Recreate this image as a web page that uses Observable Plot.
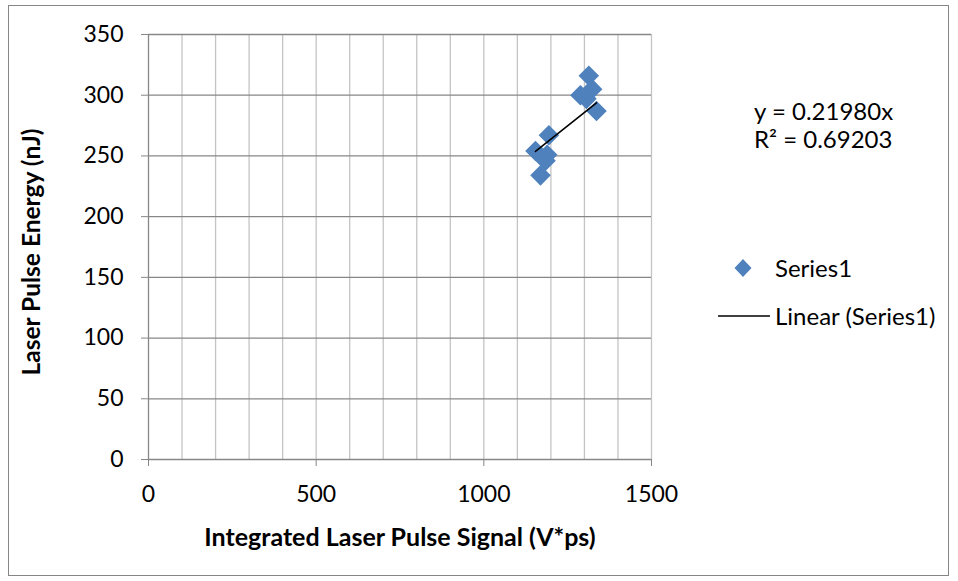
<!DOCTYPE html>
<html>
<head>
<meta charset="utf-8">
<script src="https://cdn.jsdelivr.net/npm/d3@7"></script>
<script src="https://cdn.jsdelivr.net/npm/@observablehq/plot@0.6"></script>
<style>
  html, body { margin: 0; padding: 0; background: #fff; }
  #wrap { position: relative; width: 958px; height: 581px; font-family: Lato, "Open Sans", sans-serif; color: #000; }
  #wrap svg { position: absolute; left: 0; top: 0; }
  .border { position: absolute; left: 8px; top: 5px; width: 941px; height: 571px; border: 1px solid #868686; box-sizing: border-box; pointer-events: none; }
  .t { position: absolute; white-space: nowrap; font-size: 24px; line-height: 1; }
</style>
</head>
<body>
<div id="wrap"></div>
<script>
// Data
const signal = [1313, 1323, 1288, 1306, 1336, 1194, 1154, 1189, 1184, 1169];
const energy = [316, 305, 300, 297, 287, 267, 254, 251, 246, 234];
const slope = 0.2198;
const r2 = 0.69203;
const xTicks = [0, 500, 1000, 1500];
const yTicks = [0, 50, 100, 150, 200, 250, 300, 350];
const xGrid = d3.range(100, 1501, 100);
const seriesName = "Series1";
const xTitle = "Integrated Laser Pulse Signal (V*ps)";
const yTitle = "Laser Pulse Energy (nJ)";

const points = signal.map((s, i) => ({x: s, y: energy[i]}));
const xmin = d3.min(signal), xmax = d3.max(signal);
const trend = [{x: xmin, y: slope * xmin}, {x: xmax, y: slope * xmax}];

const axisGray = "#878787";
const plot = Plot.plot({
  width: 958,
  height: 581,
  marginLeft: 148,
  marginRight: 307,
  marginTop: 34,
  marginBottom: 122,
  style: {fontFamily: "Lato, 'Open Sans', sans-serif", fontSize: "24px", color: "#000", background: "transparent"},
  x: {domain: [0, 1500]},
  y: {domain: [0, 350]},
  marks: [
    Plot.gridX(xGrid, {stroke: "#c4c4c4", strokeOpacity: 1, strokeWidth: 1.3}),
    Plot.gridY(yTicks.filter(d => d > 0), {stroke: axisGray, strokeOpacity: 1, strokeWidth: 1.3}),
    Plot.ruleX([0], {stroke: axisGray, strokeWidth: 1.3}),
    Plot.ruleY([0], {stroke: axisGray, strokeWidth: 1.3}),
    Plot.axisY(yTicks, {tickSize: 7, tickPadding: 18, stroke: axisGray, fill: "#000", label: null, fontSize: 23, tickFormat: d => String(d)}),
    Plot.axisX(xTicks, {tickSize: 7, tickPadding: 19, stroke: axisGray, fill: "#000", label: null, fontSize: 23, tickFormat: d => String(d)}),
    Plot.dot(points, {x: "x", y: "y", symbol: "square", r: 8.2, rotate: 45, fill: "#4F81BD", stroke: "none"}),
    Plot.line(trend, {x: "x", y: "y", stroke: "#000", strokeWidth: 1.6})
  ]
});

const wrap = document.getElementById("wrap");
wrap.appendChild(plot);

function addText(txt, css, cls = "t") {
  const d = document.createElement("div");
  d.className = cls;
  d.textContent = txt;
  Object.assign(d.style, css);
  wrap.appendChild(d);
  return d;
}
const b = document.createElement("div"); b.className = "border"; wrap.appendChild(b);

addText(xTitle, {left: "400px", top: "524px", transform: "translateX(-50%)", fontWeight: "bold", fontSize: "25px"});
addText(yTitle, {left: "31px", top: "252px", transform: "translate(-50%,-50%) rotate(-90deg)", fontWeight: "bold", fontSize: "24.5px"});
addText("y = " + slope.toFixed(5) + "x", {left: "754px", top: "99px"});
addText("R² = " + r2.toFixed(5), {left: "754px", top: "127px"});

// legend
const leg = document.createElementNS("http://www.w3.org/2000/svg", "svg");
leg.setAttribute("width", 958); leg.setAttribute("height", 581);
leg.style.pointerEvents = "none";
const ns = "http://www.w3.org/2000/svg";
const dia = document.createElementNS(ns, "path");
dia.setAttribute("d", "M743,259 L751.5,268 L743,277 L734.5,268 Z");
dia.setAttribute("fill", "#4F81BD");
leg.appendChild(dia);
const ln = document.createElementNS(ns, "line");
ln.setAttribute("x1", 718); ln.setAttribute("x2", 770); ln.setAttribute("y1", 316); ln.setAttribute("y2", 316);
ln.setAttribute("stroke", "#000"); ln.setAttribute("stroke-width", 1.6);
leg.appendChild(ln);
wrap.appendChild(leg);
addText(seriesName, {left: "775px", top: "256px"});
addText("Linear (" + seriesName + ")", {left: "775px", top: "304px"});
</script>
</body>
</html>
